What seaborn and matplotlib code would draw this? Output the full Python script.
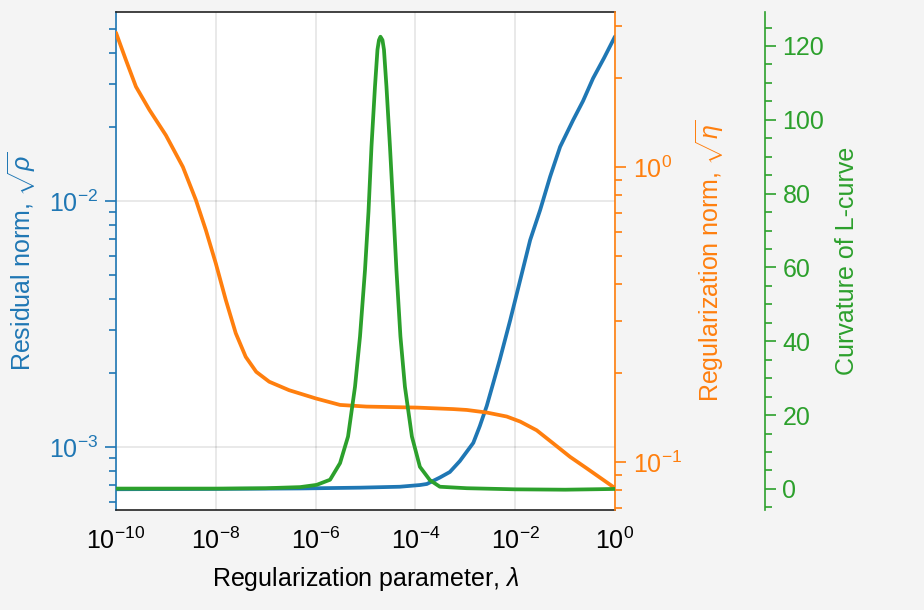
import numpy as np
import pandas as pd
import matplotlib
matplotlib.use("Agg")
import matplotlib.pyplot as plt
import seaborn as sns
from matplotlib.ticker import LogLocator, MultipleLocator, NullLocator, NullFormatter

# ---------------- data ----------------
resid_log10_lambda = [-10, -8, -6.31, -5.11, -4.31, -3.91, -3.77, -3.51, -3.31, -3.11,
                      -2.84, -2.71, -2.57, -2.44, -2.31, -2.10, -1.90, -1.70, -1.50,
                      -1.30, -1.10, -0.84, -0.64, -0.44, -0.22, 0]
resid_norm = [6.74e-4, 6.76e-4, 6.79e-4, 6.84e-4, 6.90e-4, 7.01e-4, 7.08e-4, 7.52e-4,
              7.92e-4, 8.77e-4, 1.04e-3, 1.216e-3, 1.47e-3, 1.82e-3, 2.26e-3, 3.28e-3,
              4.77e-3, 6.94e-3, 9.19e-3, 1.256e-2, 1.66e-2, 2.13e-2, 2.55e-2, 3.15e-2,
              3.81e-2, 4.66e-2]

reg_log10_lambda = [-10, -9.80, -9.60, -9.33, -9.00, -8.66, -8.40, -8.20, -8.00, -7.80,
                    -7.60, -7.40, -7.19, -6.93, -6.53, -5.99, -5.51, -4.98, -3.97, -3.24,
                    -2.97, -2.57, -2.17, -1.90, -1.57, -1.24, -0.90, -0.57, 0]
reg_norm = [2.85, 2.30, 1.87, 1.56, 1.28, 1.00, 0.773, 0.611, 0.471, 0.354,
            0.273, 0.227, 0.202, 0.187, 0.175, 0.164, 0.156, 0.154, 0.1528, 0.151,
            0.150, 0.147, 0.1425, 0.137, 0.128, 0.1156, 0.104, 0.0952, 0.0815]

curv_log10_lambda = [-10, -8, -7, -6.31, -5.98, -5.71, -5.51, -5.35, -5.21, -5.11, -5.01,
                     -4.94, -4.88, -4.81, -4.76, -4.73, -4.70, -4.66, -4.63, -4.58, -4.51,
                     -4.44, -4.38, -4.30, -4.21, -4.07, -3.91, -3.71, -3.51, -2.97, -2,
                     -1, 0]
curvature = [0.1, 0.1, 0.2, 0.5, 1.1, 2.5, 7.0, 14.2, 27.7, 41.3, 59.3,
             75.1, 92.8, 109.0, 119.0, 121.6, 122.5, 121.6, 119.0, 109.0, 92.8,
             75.1, 59.3, 41.3, 27.7, 14.2, 6.0, 2.4, 0.6, 0.2, -0.1,
             -0.2, 0.0]

x_tick_values = [1e-10, 1e-8, 1e-6, 1e-4, 1e-2, 1e0]
curv_ticks = [0, 20, 40, 60, 80, 100, 120]

blue, orange, green = "#1f77b4", "#ff7f0e", "#2ca02c"

# ---------------- style ----------------
sns.set_style("white")
plt.rcParams.update({
    "font.family": ["Liberation Sans", "DejaVu Sans"],
    "font.size": 9,
    "text.color": "black",
    "axes.labelcolor": "black",
    "xtick.color": "black",
    "ytick.color": "black",
    "mathtext.fontset": "custom",
    "mathtext.rm": "Liberation Sans",
    "mathtext.it": "Liberation Sans:italic",
    "mathtext.bf": "Liberation Sans:bold",
    "axes.linewidth": 0.6,
    "xtick.major.size": 4, "ytick.major.size": 4,
    "xtick.minor.size": 2.4, "ytick.minor.size": 2.4,
    "xtick.major.width": 0.6, "ytick.major.width": 0.6,
    "xtick.minor.width": 0.6, "ytick.minor.width": 0.6,
    "xtick.major.pad": 2.4, "ytick.major.pad": 2.4,
    "xtick.direction": "out", "ytick.direction": "out",
    "axes.labelpad": 4,
    "lines.solid_capstyle": "round",
    "lines.solid_joinstyle": "round",
})

fig = plt.figure(figsize=(4.62, 3.05), dpi=200, facecolor="#f4f4f4")
ax = fig.add_axes([116 / 924, 100 / 610, 499 / 924, 498 / 610])
ax.set_facecolor("white")
ax2 = ax.twinx()
ax3 = ax.twinx()

df1 = pd.DataFrame({"lam": np.power(10.0, resid_log10_lambda), "v": resid_norm})
df2 = pd.DataFrame({"lam": np.power(10.0, reg_log10_lambda), "v": reg_norm})
df3 = pd.DataFrame({"lam": np.power(10.0, curv_log10_lambda), "v": curvature})

for a in (ax, ax2, ax3):
    a.set_xscale("log")

sns.lineplot(data=df1, x="lam", y="v", ax=ax, color=blue, lw=1.35)
sns.lineplot(data=df2, x="lam", y="v", ax=ax2, color=orange, lw=1.35)
sns.lineplot(data=df3, x="lam", y="v", ax=ax3, color=green, lw=1.35)

# x axis
ax.set_xlim(1e-10, 1)
ax.set_xticks(x_tick_values)
ax.xaxis.set_minor_locator(NullLocator())
ax.set_xlabel(r"Regularization parameter, $\lambda$")
ax.tick_params(axis="x", colors="black")

# left axis
ax.set_yscale("log")
ax.set_ylim(5.55e-4, 0.0586)
ax.yaxis.set_major_locator(LogLocator(base=10))
ax.yaxis.set_minor_locator(LogLocator(base=10, subs=np.arange(2, 10)))
ax.yaxis.set_minor_formatter(NullFormatter())
ax.set_ylabel(r"Residual norm, $\sqrt{\rho}$", color=blue)
ax.tick_params(axis="y", which="both", colors=blue)
ax.spines["left"].set_color(blue)
ax.spines["right"].set_visible(False)
ax.spines["top"].set_color("#222222")
ax.spines["bottom"].set_color("#222222")
ax.grid(True, which="major", color="black", alpha=0.1, lw=0.6)

# right (orange) axis
ax2.set_yscale("log")
ax2.set_ylim(0.0687, 3.35)
ax2.yaxis.set_minor_locator(LogLocator(base=10, subs=np.arange(2, 10)))
ax2.yaxis.set_minor_formatter(NullFormatter())
ax2.set_ylabel(r"Regularization norm, $\sqrt{\eta}$", color=orange)
ax2.tick_params(axis="y", which="both", colors=orange)
for s in ("left", "top", "bottom"):
    ax2.spines[s].set_visible(False)
ax2.spines["right"].set_color(orange)
ax2.grid(False)

# third (green) axis
ax3.spines["right"].set_position(("axes", 1.3))
ax3.set_ylim(-5.7, 129.2)
ax3.set_yticks(curv_ticks)
ax3.yaxis.set_minor_locator(MultipleLocator(5))
ax3.set_ylabel("Curvature of L-curve", color=green)
ax3.tick_params(axis="y", which="both", colors=green)
for s in ("left", "top", "bottom"):
    ax3.spines[s].set_visible(False)
ax3.spines["right"].set_color(green)
ax3.grid(False)

for a in (ax, ax2, ax3):
    a.set_xlim(1e-10, 1)

fig.savefig("out.png", dpi=200, facecolor=fig.get_facecolor())
